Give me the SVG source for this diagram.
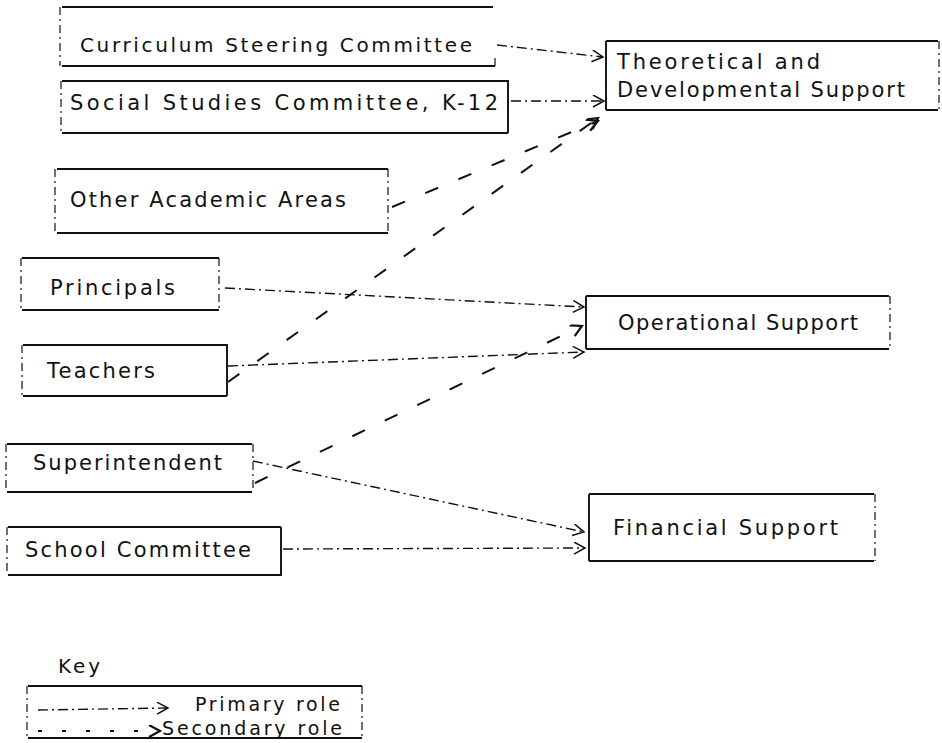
<svg xmlns="http://www.w3.org/2000/svg" width="942" height="743" viewBox="0 0 942 743">
<style>
  text { font-family: "DejaVu Sans", "Liberation Sans", sans-serif; font-size: 21px; fill: #111; }
  .box { fill: none; stroke: #111; stroke-width: 1.9; }
  .side { fill: none; stroke: #111; stroke-width: 1.2; stroke-dasharray: 8 4 2 4; }
  .primary { fill: none; stroke: #111; stroke-width: 1.4; stroke-dasharray: 10 4 2 4; }
  .secondary { fill: none; stroke: #111; stroke-width: 2; stroke-dasharray: 14 22; }
  .keytext { font-size: 19px; }
</style>
<defs>
  <marker id="ap" markerUnits="userSpaceOnUse" markerWidth="16" markerHeight="16" refX="12" refY="6" orient="auto">
    <path d="M1,0 L12,6 L1,12" fill="none" stroke="#111" stroke-width="1.5"/>
  </marker>
  <marker id="as" markerUnits="userSpaceOnUse" markerWidth="16" markerHeight="16" refX="12" refY="6" orient="auto">
    <path d="M1,0 L12,6 L1,12" fill="none" stroke="#111" stroke-width="2.2"/>
  </marker>
</defs>
<rect width="942" height="743" fill="#fff"/>

<g id="curriculum">
  <path class="box" d="M62,7 H493 M62,66 H495"/>
  <path class="side" d="M60,7 V66 M495,58 V66"/>
  <text x="80" y="52" textLength="392" lengthAdjust="spacing" style="font-size:20px">Curriculum Steering Committee</text>
</g>
<g id="social-studies">
  <path class="box" d="M62,81 H508 V133 M62,133 H508"/>
  <path class="side" d="M61,81 V133"/>
  <text x="70" y="110" textLength="428" lengthAdjust="spacing">Social Studies Committee, K-12</text>
</g>
<g id="other-academic">
  <path class="box" d="M57,169 H388 M57,233 H388"/>
  <path class="side" d="M55,169 V233 M388,169 V233"/>
  <text x="70" y="207" textLength="276" lengthAdjust="spacing">Other Academic Areas</text>
</g>
<g id="principals">
  <path class="box" d="M22,258 H219 M22,310 H219"/>
  <path class="side" d="M21,258 V310 M219,258 V310"/>
  <text x="50" y="295" textLength="125" lengthAdjust="spacing">Principals</text>
</g>
<g id="teachers">
  <path class="box" d="M23,345 H227 V396 M23,396 H227"/>
  <path class="side" d="M22,345 V396"/>
  <text x="47" y="378" textLength="108" lengthAdjust="spacing">Teachers</text>
</g>
<g id="superintendent">
  <path class="box" d="M7,444 H252 M7,492 H252"/>
  <path class="side" d="M6,444 V492 M253,444 V492"/>
  <text x="33" y="470" textLength="189" lengthAdjust="spacing">Superintendent</text>
</g>
<g id="school-committee">
  <path class="box" d="M8,527 H281 M8,575 H281 V527"/>
  <path class="side" d="M7,527 V575"/>
  <text x="25" y="557" textLength="226" lengthAdjust="spacing">School Committee</text>
</g>
<g id="theoretical">
  <path class="box" d="M606,41 H938 M606,110 H938 M606,41 V110"/>
  <path class="side" d="M939,41 V110"/>
  <text x="617" y="69" textLength="203" lengthAdjust="spacing">Theoretical and</text>
  <text x="617" y="97" textLength="288" lengthAdjust="spacing">Developmental Support</text>
</g>
<g id="operational">
  <path class="box" d="M586,296 H889 M586,349 H889 M586,296 V349"/>
  <path class="side" d="M890,296 V349"/>
  <text x="618" y="330" textLength="240" lengthAdjust="spacing">Operational Support</text>
</g>
<g id="financial">
  <path class="box" d="M589,494 H874 M589,561 H874 M589,494 V561"/>
  <path class="side" d="M875,494 V561"/>
  <text x="613" y="535" textLength="225" lengthAdjust="spacing">Financial Support</text>
</g>

<g id="connectors">
  <path class="primary" marker-end="url(#ap)" d="M497,45 L603,57"/>
  <path class="primary" marker-end="url(#ap)" d="M511,101 L604,101"/>
  <path class="primary" marker-end="url(#ap)" d="M225,288 L584,307"/>
  <path class="primary" marker-end="url(#ap)" d="M228,366 L584,352"/>
  <path class="primary" marker-end="url(#ap)" d="M253,461 L290,469 L584,532"/>
  <path class="primary" marker-end="url(#ap)" d="M283,549 L585,548"/>
  <path class="secondary" marker-end="url(#as)" d="M392,207 L598,121"/>
  <path class="secondary" marker-end="url(#as)" d="M228,382 L598,118"/>
  <path class="secondary" marker-end="url(#as)" d="M255,483 L582,326"/>
</g>

<g id="key">
  <text x="58" y="673" textLength="42" lengthAdjust="spacing" style="font-size:20px">Key</text>
  <path class="box" d="M28,686 H362 M28,738 H362"/>
  <path class="side" d="M27,686 V738 M362,686 V738"/>
  <path class="primary" marker-end="url(#ap)" d="M38,710 L168,708"/>
  <path class="secondary" marker-end="url(#as)" d="M38,731 L160,731" style="stroke-dasharray:4 20"/>
  <text class="keytext" x="195" y="711" textLength="145" lengthAdjust="spacing">Primary role</text>
  <text class="keytext" x="162" y="735" textLength="180" lengthAdjust="spacing">Secondary role</text>
</g>
</svg>
